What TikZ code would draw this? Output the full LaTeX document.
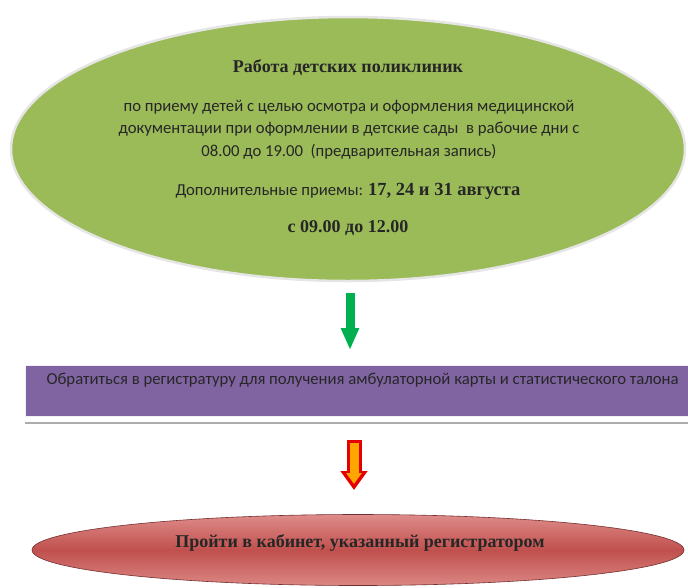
\documentclass[tikz,border=0pt]{standalone}
\usepackage{fontspec}
\setmainfont{Liberation Serif}
\newfontfamily\calibri{Carlito}
\usetikzlibrary{shapes.geometric,arrows.meta}

\definecolor{olivegreen}{RGB}{155,187,89}
\definecolor{regviolet}{RGB}{128,100,162}
\definecolor{arrowgreen}{RGB}{0,176,80}
\definecolor{cabred}{RGB}{192,80,77}
\definecolor{cabpink}{RGB}{222,140,138}

\tikzset{
  polyell/.style={ellipse, fill=olivegreen, draw=gray!20, line width=2.5pt,
    minimum width=674pt, minimum height=264pt, inner sep=0pt},
  regbox/.style={rectangle, fill=regviolet, draw=white!90!regviolet, line width=1pt,
    minimum width=664pt, minimum height=51pt, inner sep=0pt, anchor=north west},
  cabell/.style={ellipse, top color=cabpink, bottom color=cabpink!90!cabred,
    middle color=cabred, draw=cabred!60!black, line width=0.6pt,
    minimum width=652pt, minimum height=71pt, inner sep=0pt},
  body/.style={font=\calibri\fontsize{16.7}{19}\selectfont, text=black!85},
  head/.style={font=\bfseries\fontsize{18}{21}\selectfont, text=black!85},
  shelf/.style={draw=gray!65, line width=2pt},
  greenarrow/.style={draw=arrowgreen, line width=9pt,
    -{Triangle[width=17pt,length=22pt]}},
  redarrow/.style={draw=red!90!black, line width=15pt,
    -{Triangle[width=26pt,length=19pt]}},
  redcore/.style={draw=orange!70!yellow, line width=9pt,
    -{Triangle[width=15pt,length=11pt]}}
}

\begin{document}
\begin{tikzpicture}[x=1pt,y=-1pt]
  \useasboundingbox (0,0) rectangle (688,587);
  \node[polyell] at (348,149) (poly) {};
  \node[head] at (348,68) (title) {Работа детских поликлиник};
  \node[body] at (349,107) (line1) {по приему детей с целью осмотра и оформления медицинской};
  \node[body] at (349,129) (line2) {документации при оформлении в детские сады\ \ в рабочие дни с};
  \node[body] at (349,152) (line3) {08.00 до 19.00\ \ (предварительная запись)};
  \node[body] at (348,191) (line4) {Дополнительные приемы: {\rmfamily\bfseries\fontsize{18.5}{21}\selectfont 17, 24 и 31 августа}};
  \node[head] at (348,228) (hours) {с 09.00 до 12.00};
  \node[regbox] at (25,365) (reg) {};
  \node[body, anchor=west] at (43,380) (regtext) {Обратиться в регистратуру для получения амбулаторной карты и статистического талона};
  \draw[shelf] ([yshift=-6pt]reg.south west) -- ([yshift=-6pt]reg.south east);
  \node[cabell] at (358,550) (cab) {};
  \node[head] at (360,543) (cabtext) {Пройти в кабинет, указанный регистратором};
  \coordinate (gfrom) at (350,293);
  \coordinate (gto) at (350,350);
  \coordinate (rfrom) at (354,440);
  \coordinate (rto) at (354,490);
  \coordinate (cfrom) at (354,443);
  \coordinate (cto) at (354,484);
  \draw[greenarrow] (gfrom) -- (gto);
  \draw[redarrow] (rfrom) -- (rto);
  \draw[redcore] (cfrom) -- (cto);
\end{tikzpicture}
\end{document}
